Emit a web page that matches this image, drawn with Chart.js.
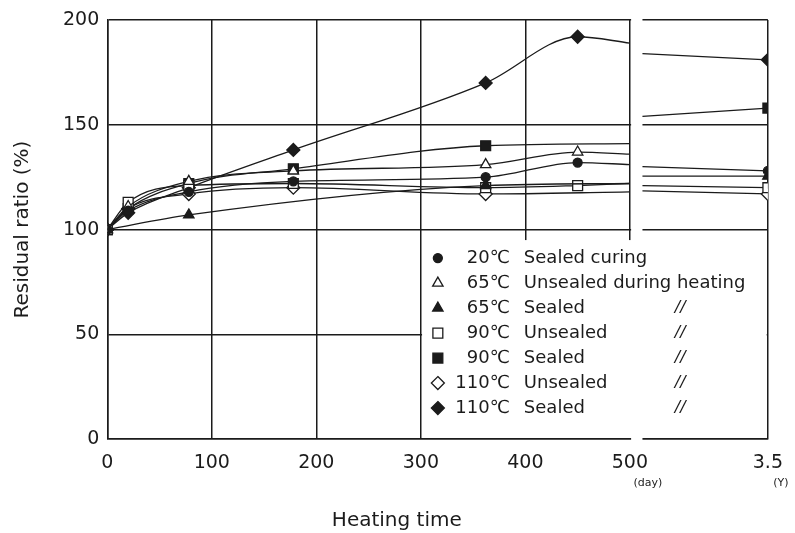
<!DOCTYPE html>
<html>
<head>
<meta charset="utf-8">
<script src="https://cdn.jsdelivr.net/npm/chart.js@4.4.0/dist/chart.umd.min.js"></script>
<style>
  html, body { margin: 0; padding: 0; background: #fff; }
</style>
</head>
<body>
<canvas id="residual_chart" width="795" height="533"></canvas>
<script>
// heating time (days); the 500 point only carries the line to the axis break
const days = [0, 20, 78, 178, 362, 450, 500];
// long-term part after the break: start of the segment, then 3.5 years
const GAP_END = 512;
const LONG_X = 632;
const tickValues = [0, 100, 200, 300, 400, 500, LONG_X];
const tickLabels = ['0', '100', '200', '300', '400', '500', '3.5'];

// residual ratio (%)
const sealedCuring20 = [100, 109, 118, 123, 125, 132, 131];
const sealedCuring20Long = [130, 128];
const unsealed65 = [100, 111, 123, 128, 131, 137, 136];
const sealed65 = [100, null, 107, null, 121, null, 122];
const sealed65Long = [125.5, 125.5];
const unsealed90 = [100, 113, 121, 122, 120, 121, 122];
const unsealed90Long = [121, 120];
const sealed90 = [100, 110, 122, 129, 140, null, 141];
const sealed90Long = [154, 158];
const unsealed110 = [100, 110, 117, 120, 117, null, 118];
const unsealed110Long = [118.5, 117];
const sealed110 = [100, 108, 120, 138, 170, 192, 189];
const sealed110Long = [184, 181];

const temps = ['20\u2103', '65\u2103', '65\u2103', '90\u2103', '90\u2103', '110\u2103', '110\u2103'];
const conditions = ['Sealed curing', 'Unsealed during heating', 'Sealed', 'Unsealed', 'Sealed', 'Unsealed', 'Sealed'];
const notes = ['', '', '//', '//', '//', '//', '//'];

const INK = '#1b1b1b';
const FONT = "'DejaVu Sans', sans-serif";

function buildData(vals, longVals) {
  const pts = [];
  days.forEach((d, i) => {
    if (vals[i] !== null) pts.push({ x: d, y: vals[i] });
  });
  if (longVals) {
    pts.push({ x: (500 + GAP_END) / 2, y: null });
    pts.push({ x: GAP_END, y: longVals[0] });
    pts.push({ x: LONG_X, y: longVals[1] });
  }
  return pts;
}

function makeSet(i, vals, longVals, style, filled, r) {
  return {
    label: temps[i] + ' ' + conditions[i],
    data: buildData(vals, longVals),
    borderColor: INK,
    borderWidth: 1.3,
    cubicInterpolationMode: 'monotone',
    spanGaps: false,
    pointStyle: style,
    filled: filled,
    markerRadius: r,
    pointRadius: (ctx) => {
      const x = ctx.raw ? ctx.raw.x : 0;
      return (x === 500 || x === GAP_END) ? 0 : r;
    },
    pointBackgroundColor: filled ? INK : '#fff',
    pointBorderColor: INK,
    pointBorderWidth: 1.3,
  };
}

function drawMarker(c, style, filled, x, y, r) {
  c.beginPath();
  if (style === 'circle') {
    c.arc(x, y, r, 0, Math.PI * 2);
  } else if (style === 'rect') {
    const s = r * Math.SQRT1_2;
    c.rect(x - s, y - s, 2 * s, 2 * s);
  } else if (style === 'rectRot') {
    c.moveTo(x, y - r); c.lineTo(x + r, y); c.lineTo(x, y + r); c.lineTo(x - r, y);
  } else if (style === 'triangle') {
    c.moveTo(x, y - r);
    c.lineTo(x + r * 0.866, y + r * 0.5);
    c.lineTo(x - r * 0.866, y + r * 0.5);
  }
  c.closePath();
  c.fillStyle = filled ? INK : '#fff';
  c.fill();
  c.lineWidth = 1.3;
  c.strokeStyle = INK;
  c.stroke();
}

// white break between 500 days and the long-term segment, plus the legend box
const breakAndLegend = {
  id: 'breakAndLegend',
  beforeDatasetsDraw(chart) {
    const c = chart.ctx;
    const xs = chart.scales.x, ys = chart.scales.y, area = chart.chartArea;
    c.save();
    c.fillStyle = '#fff';
    const g0 = xs.getPixelForValue(500) + 1.2;
    const g1 = xs.getPixelForValue(GAP_END);
    c.fillRect(g0, area.top - 3, g1 - g0, area.bottom - area.top + 6);
    const bx0 = xs.getPixelForValue(300) + 1.2;
    const bx1 = xs.getPixelForValue(LONG_X) - 1.2;
    const by0 = ys.getPixelForValue(95);
    const by1 = ys.getPixelForValue(0) - 1.2;
    c.fillRect(bx0, by0, bx1 - bx0, by1 - by0);
    c.restore();
  },
  afterDatasetsDraw(chart) {
    const c = chart.ctx;
    const xs = chart.scales.x, ys = chart.scales.y, area = chart.chartArea;
    const left = xs.getPixelForValue(300);
    const top = ys.getPixelForValue(95);
    c.save();
    c.fillStyle = INK;
    c.textBaseline = 'middle';
    chart.data.datasets.forEach((ds, i) => {
      const y = top + 18 + i * 25;
      drawMarker(c, ds.pointStyle, ds.filled, left + 17, y, ds.markerRadius);
      c.fillStyle = INK;
      c.font = '18px ' + FONT;
      c.textAlign = 'right';
      c.fillText(temps[i], left + 89, y);
      c.textAlign = 'left';
      c.fillText(conditions[i], left + 103, y);
      if (notes[i]) {
        c.font = 'italic 16px ' + FONT;
        c.fillText(notes[i], left + 254, y);
      }
    });
    // units under the break and the 3.5 tick, and the axis title
    c.font = '11px ' + FONT;
    c.textAlign = 'center';
    c.fillText('(day)', xs.getPixelForValue(500) + 18, area.bottom + 44);
    c.fillText('(Y)', xs.getPixelForValue(LONG_X) + 13, area.bottom + 44);
    c.font = '20px ' + FONT;
    c.fillText('Heating time', xs.getPixelForValue(277), area.bottom + 82);
    c.restore();
  }
};

const ctx = document.getElementById('residual_chart').getContext('2d');
const residualChart = new Chart(ctx, {
  type: 'line',
  data: {
    datasets: [
      makeSet(0, sealedCuring20, sealedCuring20Long, 'circle', true, 4.5),
      makeSet(1, unsealed65, null, 'triangle', false, 6),
      makeSet(2, sealed65, sealed65Long, 'triangle', true, 6),
      makeSet(3, unsealed90, unsealed90Long, 'rect', false, 7),
      makeSet(4, sealed90, sealed90Long, 'rect', true, 7),
      makeSet(5, unsealed110, unsealed110Long, 'rectRot', false, 6.5),
      makeSet(6, sealed110, sealed110Long, 'rectRot', true, 6.5),
    ],
  },
  options: {
    responsive: false,
    animation: false,
    layout: { padding: { left: 5, right: 27, top: 20, bottom: 47 } },
    plugins: {
      legend: { display: false },
      tooltip: { enabled: false },
    },
    scales: {
      x: {
        type: 'linear',
        min: 0,
        max: LONG_X,
        afterBuildTicks: (scale) => {
          scale.ticks = tickValues.map((v) => ({ value: v }));
        },
        grid: { color: INK, lineWidth: 1.5, drawTicks: false },
        border: { color: INK, width: 1.5 },
        ticks: {
          color: INK,
          font: { family: FONT, size: 19 },
          padding: 12,
          maxRotation: 0,
          callback: (v) => tickLabels[tickValues.indexOf(v)],
        },
      },
      y: {
        min: 0,
        max: 200,
        grid: { color: INK, lineWidth: 1.5, drawTicks: false },
        border: { color: INK, width: 1.5 },
        ticks: {
          stepSize: 50,
          color: INK,
          font: { family: FONT, size: 19 },
          padding: 8,
        },
        title: {
          display: true,
          text: 'Residual ratio (%)',
          color: INK,
          font: { family: FONT, size: 20 },
          padding: { top: 6, bottom: 20 },
        },
      },
    },
  },
  plugins: [breakAndLegend],
});
</script>
</body>
</html>
